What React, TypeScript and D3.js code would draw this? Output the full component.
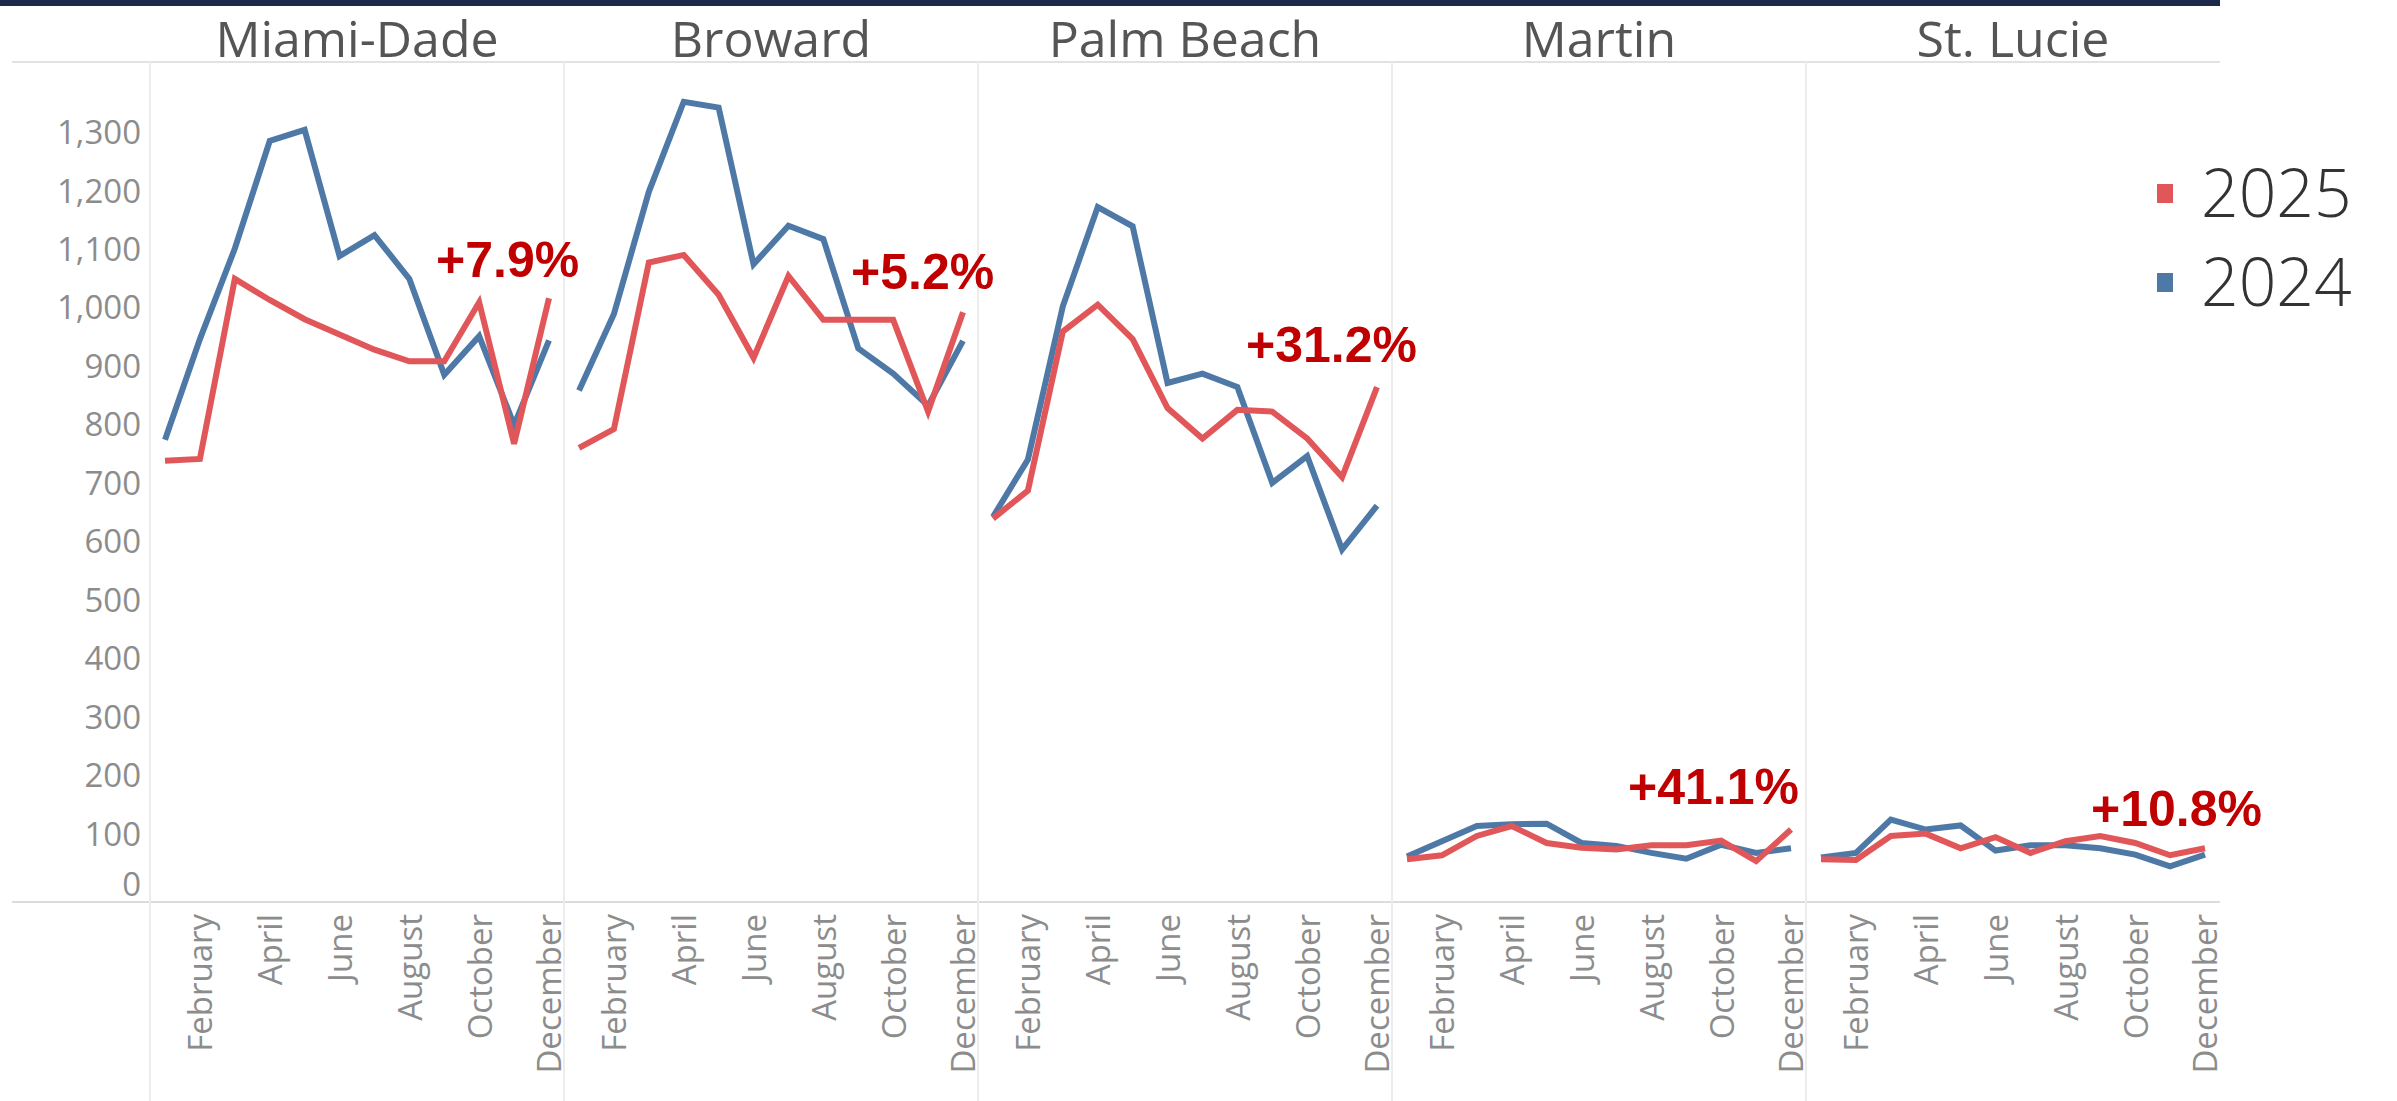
import React from 'react';
import * as d3 from 'd3';

// ---------- data ----------
const months = ['January','February','March','April','May','June','July','August','September','October','November','December'];
const tickMonths = ['February','April','June','August','October','December'];
const counties = ['Miami-Dade','Broward','Palm Beach','Martin','St. Lucie'];
const years = ['2025','2024'];

const miamiDade2024 = [773, 945, 1100, 1284, 1303, 1087, 1123, 1048, 884, 950, 798, 943];
const miamiDade2025 = [737, 740, 1048, 1012, 979, 953, 927, 907, 907, 1008, 766, 1015];
const broward2024 = [857, 988, 1197, 1351, 1341, 1073, 1139, 1116, 929, 886, 831, 942];
const broward2025 = [759, 791, 1076, 1089, 1021, 913, 1053, 978, 978, 978, 821, 991];
const palmBeach2024 = [641, 739, 1001, 1171, 1138, 870, 886, 863, 699, 745, 585, 660];
const palmBeach2025 = [638, 686, 958, 1004, 945, 827, 775, 824, 821, 775, 709, 863];
const martin2024 = [60, 86, 112, 115, 116, 83, 78, 66, 56, 80, 66, 74];
const martin2025 = [55, 62, 95, 112, 83, 75, 72, 79, 79, 87, 52, 106];
const stLucie2024 = [58, 66, 123, 106, 113, 70, 79, 79, 74, 63, 43, 63];
const stLucie2025 = [55, 54, 95, 99, 74, 93, 66, 86, 95, 83, 62, 74];

const changeLabels = ['+7.9%', '+5.2%', '+31.2%', '+41.1%', '+10.8%'];
const yTickValues = [0, 100, 200, 300, 400, 500, 600, 700, 800, 900, 1000, 1100, 1200, 1300];

const series2024 = [miamiDade2024, broward2024, palmBeach2024, martin2024, stLucie2024];
const series2025 = [miamiDade2025, broward2025, palmBeach2025, martin2025, stLucie2025];

// ---------- layout ----------
const W = 2397, H = 1101;
const colors: Record<string, string> = { '2025': '#e15759', '2024': '#4e79a7' };
const labelPos = [
  { x: 436, y: 277 },
  { x: 851, y: 289 },
  { x: 1246, y: 362 },
  { x: 1628, y: 804 },
  { x: 2091, y: 826 },
];
const axisFont = "'Open Sans', 'Noto Sans', sans-serif";

export default function App() {
  const paneScale = d3.scaleBand<string>().domain(counties).range([150, 2220]);
  const pw = paneScale.bandwidth();
  const x = d3.scalePoint<string>().domain(months).range([0, pw]).padding(0.43);
  const y = d3.scaleLinear().domain([0, 1300]).range([891.5, 131.6]);
  const line = d3.line<number>().x((_, i) => x(months[i]) as number).y(d => y(d));
  const fmt = d3.format(',');

  return (
    <svg width={W} height={H} style={{ position: 'absolute', left: 0, top: 0, display: 'block', background: '#fff' }}>
      <rect x={0} y={0} width={W} height={H} fill="#fff" />
      <rect x={0} y={0} width={2220} height={6} fill="#1c2a4a" />
      {/* header underline and bottom axis line */}
      <line x1={12} x2={2220} y1={62} y2={62} stroke="#e2e2e2" strokeWidth={2} />
      <line x1={12} x2={2220} y1={902} y2={902} stroke="#dcdcdc" strokeWidth={2} />
      {/* pane dividers */}
      {counties.map((c) => (
        <line key={'d' + c} x1={(paneScale(c) as number)} x2={(paneScale(c) as number)} y1={62} y2={H}
          stroke="#ececec" strokeWidth={2} />
      ))}
      {/* y axis */}
      {yTickValues.map(v => (
        <text key={'yt' + v} x={141} y={v === 0 ? y(v) - 8 : y(v)} textAnchor="end" dominantBaseline="central"
          fontFamily={axisFont} fontSize={33} fill="#8c8c8c">{fmt(v)}</text>
      ))}
      {counties.map((c, ci) => {
        const px = paneScale(c) as number;
        return (
          <g key={c} transform={`translate(${px},0)`}>
            <text x={pw / 2} y={57} textAnchor="middle" fontFamily={axisFont} fontSize={50} fill="#555">{c}</text>
            {tickMonths.map(m => (
              <text key={m} transform={`translate(${x(m)},914) rotate(-90)`} textAnchor="end" dominantBaseline="central"
                fontFamily={axisFont} fontSize={33} fill="#8c8c8c">{m}</text>
            ))}
            <path d={line(series2024[ci]) as string} fill="none" stroke={colors['2024']} strokeWidth={6} strokeLinejoin="miter" />
            <path d={line(series2025[ci]) as string} fill="none" stroke={colors['2025']} strokeWidth={6} strokeLinejoin="miter" />
          </g>
        );
      })}
      {changeLabels.map((t, i) => (
        <text key={t} x={labelPos[i].x} y={labelPos[i].y} fontFamily="'Liberation Sans', Arial, sans-serif"
          fontWeight="bold" fontSize={50} fill="#c00000">{t}</text>
      ))}
      {/* legend */}
      {years.map((yr, i) => (
        <g key={yr} transform={`translate(2157,${194 + i * 89})`}>
          <rect x={0} y={-10} width={16} height={19} fill={colors[yr]} />
          <text x={44} y={23} fontFamily={axisFont} fontWeight={300} fontSize={66} fill="#333">{yr}</text>
        </g>
      ))}
    </svg>
  );
}
